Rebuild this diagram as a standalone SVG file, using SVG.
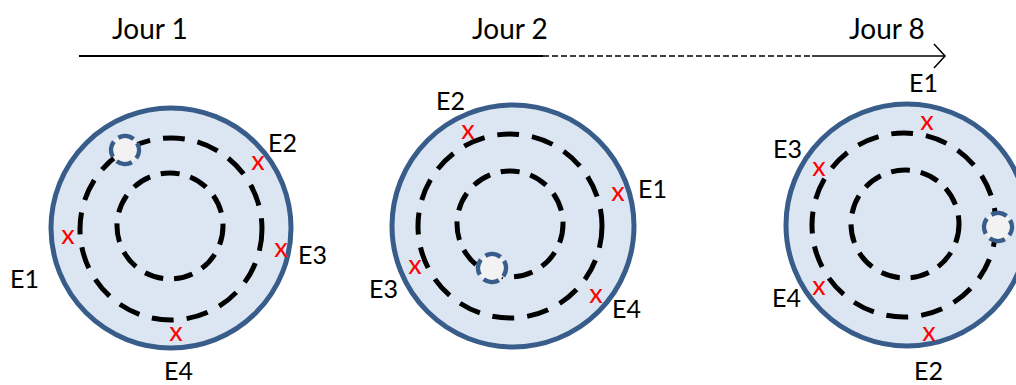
<svg xmlns="http://www.w3.org/2000/svg" width="1016" height="385" viewBox="0 0 1016 385">
<style>
.disk{fill:#DCE6F2;stroke:#385D8A;stroke-width:5}
.ring1{fill:none;stroke:#000;stroke-width:5;stroke-dasharray:22 13}
.ring2{fill:none;stroke:#000;stroke-width:5;stroke-dasharray:19 11}
.pt{fill:#F2F2F2;stroke:#385D8A;stroke-width:4.5;stroke-dasharray:16 6}
.lbl{font-family:Lato,"Liberation Sans",sans-serif;font-size:25px;fill:#000}
.day{font-family:Lato,"Liberation Sans",sans-serif;font-size:28px;fill:#000}
.x{font-family:Lato,"Liberation Sans",sans-serif;font-size:27px;fill:#FF0000;text-anchor:middle}
</style>
<g id="timeline">
<line x1="79" y1="56" x2="543" y2="56" stroke="#000" stroke-width="2"/>
<line x1="543" y1="56" x2="812" y2="56" stroke="#000" stroke-width="1.5" stroke-dasharray="6 3"/>
<line x1="812" y1="56" x2="945" y2="56" stroke="#000" stroke-width="1.5"/>
<polyline points="934,44 945,56 934,68" fill="none" stroke="#000" stroke-width="1.5"/>
<text class="day" x="112" y="39">Jour 1</text>
<text class="day" x="472" y="39">Jour 2</text>
<text class="day" x="849" y="39">Jour 8</text>
</g>
<g id="day1">
<circle class="disk" cx="171" cy="228" r="120"/>
<circle class="ring1" cx="171" cy="229" r="91"/>
<circle class="ring2" cx="170" cy="226" r="53"/>
<circle class="pt" cx="125" cy="150" r="14" transform="rotate(-30 125 150)"/>
<text class="x" x="258" y="170">x</text>
<text class="x" x="68" y="244">x</text>
<text class="x" x="281" y="257">x</text>
<text class="x" x="176" y="341">x</text>
<text class="lbl" x="268" y="152">E2</text>
<text class="lbl" x="298" y="264">E3</text>
<text class="lbl" x="10" y="288">E1</text>
<text class="lbl" x="164" y="380">E4</text>
</g>
<g id="day2">
<circle class="disk" cx="513" cy="226" r="121"/>
<circle class="ring1" cx="510" cy="226" r="92"/>
<circle class="ring2" cx="510" cy="224" r="53"/>
<circle class="pt" cx="492" cy="268" r="14" transform="rotate(-30 492 268)"/>
<text class="x" x="468" y="139">x</text>
<text class="x" x="618" y="201">x</text>
<text class="x" x="415" y="274">x</text>
<text class="x" x="596" y="303">x</text>
<text class="lbl" x="436" y="110">E2</text>
<text class="lbl" x="638" y="198">E1</text>
<text class="lbl" x="369" y="298">E3</text>
<text class="lbl" x="612" y="318">E4</text>
</g>
<g id="day8">
<circle class="disk" cx="907" cy="225" r="121"/>
<circle class="ring1" cx="904" cy="225" r="92"/>
<circle class="ring2" cx="905" cy="224" r="54"/>
<circle class="pt" cx="998" cy="227" r="14" transform="rotate(-30 998 227)"/>
<text class="x" x="927" y="130">x</text>
<text class="x" x="819" y="176">x</text>
<text class="x" x="819" y="295">x</text>
<text class="x" x="929" y="341">x</text>
<text class="lbl" x="909" y="92">E1</text>
<text class="lbl" x="773" y="158">E3</text>
<text class="lbl" x="772" y="307">E4</text>
<text class="lbl" x="914" y="380">E2</text>
</g>
</svg>
